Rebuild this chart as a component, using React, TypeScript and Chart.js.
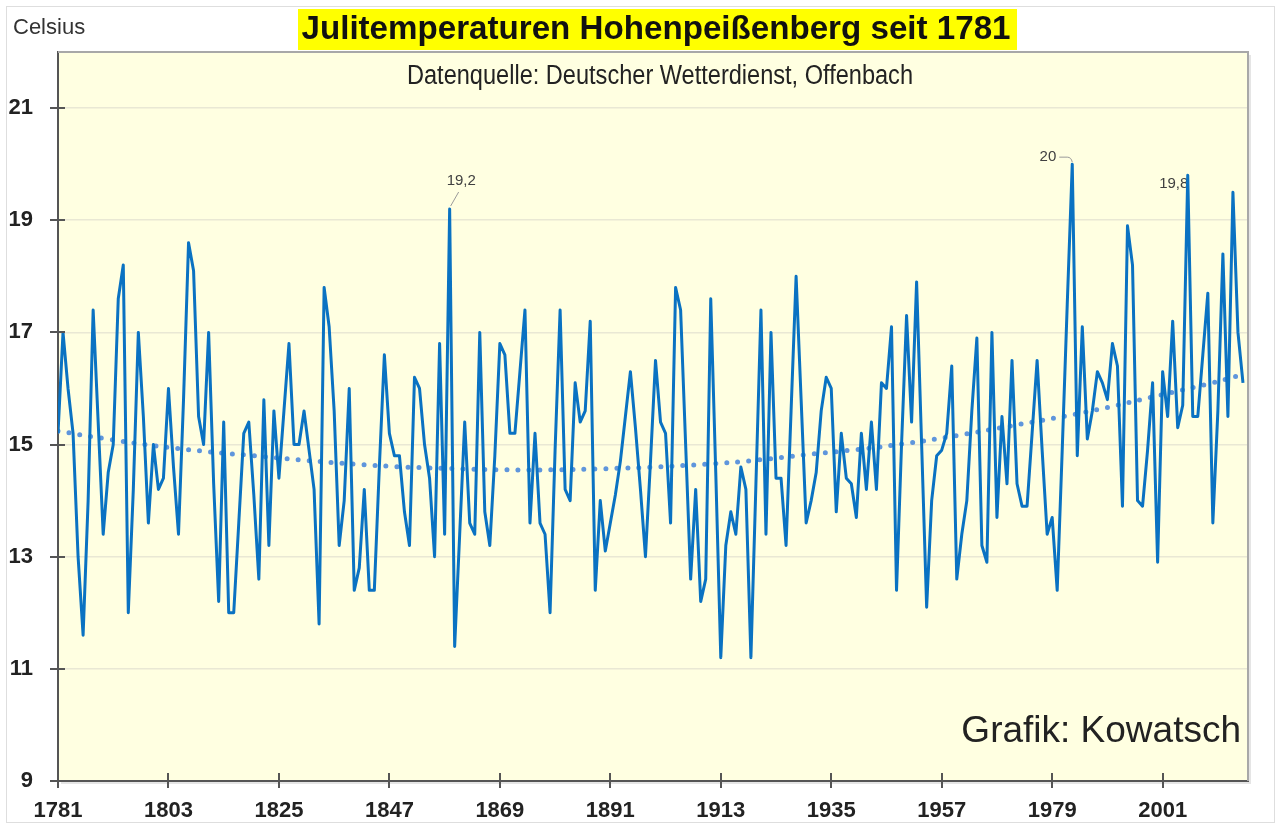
import React, { useEffect, useRef } from "react";
import { Chart, registerables } from "chart.js";

Chart.register(...registerables);

// ---------- data ----------
const firstYear = 1781;
const julyTemps: number[] = [
  // 1781-1790
  15.2, 17.0, 16.0, 15.2, 13.0, 11.6, 14.0, 17.4, 15.4, 13.4,
  // 1791-1800
  14.5, 15.0, 17.6, 18.2, 12.0, 14.2, 17.0, 15.5, 13.6, 15.0,
  // 1801-1810
  14.2, 14.4, 16.0, 14.6, 13.4, 15.8, 18.6, 18.1, 15.5, 15.0,
  // 1811-1820
  17.0, 14.3, 12.2, 15.4, 12.0, 12.0, 13.6, 15.2, 15.4, 14.1,
  // 1821-1830
  12.6, 15.8, 13.2, 15.6, 14.4, 15.6, 16.8, 15.0, 15.0, 15.6,
  // 1831-1840
  14.9, 14.2, 11.8, 17.8, 17.1, 15.6, 13.2, 14.0, 16.0, 12.4,
  // 1841-1850
  12.8, 14.2, 12.4, 12.4, 14.6, 16.6, 15.2, 14.8, 14.8, 13.8,
  // 1851-1860
  13.2, 16.2, 16.0, 15.0, 14.4, 13.0, 16.8, 13.4, 19.2, 11.4,
  // 1861-1870
  13.4, 15.4, 13.6, 13.4, 17.0, 13.8, 13.2, 14.8, 16.8, 16.6,
  // 1871-1880
  15.2, 15.2, 16.3, 17.4, 13.6, 15.2, 13.6, 13.4, 12.0, 14.9,
  // 1881-1890
  17.4, 14.2, 14.0, 16.1, 15.4, 15.6, 17.2, 12.4, 14.0, 13.1,
  // 1891-1900
  13.6, 14.1, 14.7, 15.5, 16.3, 15.3, 14.2, 13.0, 14.7, 16.5,
  // 1901-1910
  15.4, 15.2, 13.6, 17.8, 17.4, 15.0, 12.6, 14.2, 12.2, 12.6,
  // 1911-1920
  17.6, 14.5, 11.2, 13.2, 13.8, 13.4, 14.6, 14.2, 11.2, 14.3,
  // 1921-1930
  17.4, 13.4, 17.0, 14.4, 14.4, 13.2, 15.6, 18.0, 15.8, 13.6,
  // 1931-1940
  14.0, 14.5, 15.6, 16.2, 16.0, 13.8, 15.2, 14.4, 14.3, 13.7,
  // 1941-1950
  15.2, 14.2, 15.4, 14.2, 16.1, 16.0, 17.1, 12.4, 15.0, 17.3,
  // 1951-1960
  15.4, 17.9, 15.0, 12.1, 14.0, 14.8, 14.9, 15.2, 16.4, 12.6,
  // 1961-1970
  13.4, 14.0, 15.6, 16.9, 13.2, 12.9, 17.0, 13.7, 15.5, 14.3,
  // 1971-1980
  16.5, 14.3, 13.9, 13.9, 15.2, 16.5, 14.9, 13.4, 13.7, 12.4,
  // 1981-1990
  14.9, 17.5, 20.0, 14.8, 17.1, 15.1, 15.6, 16.3, 16.1, 15.8,
  // 1991-2000
  16.8, 16.4, 13.9, 18.9, 18.2, 14.0, 13.9, 14.9, 16.1, 12.9,
  // 2001-2010
  16.3, 15.5, 17.2, 15.3, 15.7, 19.8, 15.5, 15.5, 16.6, 17.7,
  // 2011-2017
  13.6, 15.6, 18.4, 15.5, 19.5, 17.0, 16.1,
];
const years: number[] = julyTemps.map((_, i) => firstYear + i);

const trendYears: number[] = [
  1781, 1790, 1800, 1810, 1820, 1830, 1840, 1850, 1860, 1870, 1880, 1890, 1900,
  1910, 1920, 1930, 1940, 1950, 1960, 1970, 1980, 1990, 2000, 2010, 2017,
];
const trendTemps: number[] = [
  15.24, 15.11, 14.98, 14.88, 14.8, 14.72, 14.65, 14.6, 14.57, 14.55, 14.55, 14.57, 14.6,
  14.65, 14.72, 14.82, 14.91, 15.02, 15.16, 15.32, 15.48, 15.66, 15.87, 16.08, 16.25,
];

const xTickYears: number[] = [1781, 1803, 1825, 1847, 1869, 1891, 1913, 1935, 1957, 1979, 2001];
const yTickValues: number[] = [9, 11, 13, 15, 17, 19, 21];

const peakYears: number[] = [1859, 1983, 2006];
const peakTexts: string[] = ["19,2", "20", "19,8"];

const titleText = "Julitemperaturen Hohenpeißenberg seit 1781";
const subtitleText = "Datenquelle: Deutscher Wetterdienst, Offenbach";
const creditText = "Grafik: Kowatsch";
const unitText = "Celsius";

// ---------- drawing helpers ----------
const FONT = '"Liberation Sans", Arial, sans-serif';

function drawScaledText(ctx: CanvasRenderingContext2D, text: string, cx: number, cy: number, font: string, width: number, color: string) {
  ctx.save();
  ctx.font = font;
  const w = ctx.measureText(text).width;
  ctx.translate(cx, cy);
  ctx.scale(width / w, 1);
  ctx.fillStyle = color;
  ctx.textAlign = "center";
  ctx.textBaseline = "middle";
  ctx.fillText(text, 0, 0);
  ctx.restore();
}

const decorPlugin = {
  id: "decor",
  beforeDraw(chart: any) {
    const { ctx, chartArea: a, width, height } = chart;
    ctx.save();
    ctx.fillStyle = "#ffffff";
    ctx.fillRect(0, 0, width, height);
    ctx.strokeStyle = "#dedede";
    ctx.lineWidth = 1;
    ctx.strokeRect(6.5, 6.5, width - 13, height - 13);
    ctx.fillStyle = "rgba(0,0,0,0.10)";
    ctx.fillRect(a.left + 3, a.top + 3, a.right - a.left, a.bottom - a.top);
    ctx.fillStyle = "#ffffe1";
    ctx.fillRect(a.left, a.top, a.right - a.left, a.bottom - a.top);
    ctx.restore();
  },
  beforeDatasetsDraw(chart: any) {
    const { ctx } = chart;
    const xs = chart.scales.x;
    const ys = chart.scales.y;
    ctx.save();
    ctx.font = `15px ${FONT}`;
    ctx.fillStyle = "#404040";
    ctx.textBaseline = "middle";
    ctx.strokeStyle = "#9a9a9a";
    ctx.lineWidth = 1;
    peakYears.forEach((yr, i) => {
      const v = julyTemps[yr - firstYear];
      const px = xs.getPixelForValue(yr);
      const py = ys.getPixelForValue(v);
      const t = peakTexts[i];
      if (i === 0) {
        ctx.textAlign = "left";
        ctx.fillText(t, px - 3, py - 28);
        ctx.beginPath();
        ctx.moveTo(px + 1, py - 3);
        ctx.lineTo(px + 9, py - 17);
        ctx.stroke();
      } else if (i === 1) {
        ctx.textAlign = "right";
        ctx.fillText(t, px - 16, py - 7);
        ctx.beginPath();
        ctx.moveTo(px - 13, py - 7);
        ctx.lineTo(px - 5, py - 7);
        ctx.quadraticCurveTo(px - 1, py - 7, px, py - 2);
        ctx.stroke();
      } else {
        ctx.textAlign = "center";
        ctx.fillText(t, px - 14, py + 8);
      }
    });
    ctx.restore();
  },
  afterDraw(chart: any) {
    const { ctx, chartArea: a } = chart;
    const xs = chart.scales.x;
    const ys = chart.scales.y;
    ctx.save();
    // top and right frame
    ctx.strokeStyle = "#a8a8a8";
    ctx.lineWidth = 2;
    ctx.beginPath();
    ctx.moveTo(a.left, a.top);
    ctx.lineTo(a.right, a.top);
    ctx.lineTo(a.right, a.bottom);
    ctx.stroke();
    // cross tick marks
    ctx.strokeStyle = "#555555";
    ctx.lineWidth = 2;
    yTickValues.forEach((v) => {
      const y = Math.round(ys.getPixelForValue(v));
      ctx.beginPath();
      ctx.moveTo(a.left - 8, y);
      ctx.lineTo(a.left + 7, y);
      ctx.stroke();
    });
    xTickYears.forEach((yr) => {
      const x = Math.round(xs.getPixelForValue(yr));
      ctx.beginPath();
      ctx.moveTo(x, a.bottom - 8);
      ctx.lineTo(x, a.bottom + 7);
      ctx.stroke();
    });
    // title with yellow highlight
    ctx.fillStyle = "#ffff00";
    ctx.fillRect(298, 9, 719, 41);
    drawScaledText(ctx, titleText, 656, 30, `bold 33px ${FONT}`, 709, "#111111");
    // subtitle (condensed)
    drawScaledText(ctx, subtitleText, 660, 77, `27px ${FONT}`, 506, "#222222");
    // credit
    ctx.font = `37px ${FONT}`;
    ctx.fillStyle = "#222222";
    ctx.textAlign = "right";
    ctx.textBaseline = "alphabetic";
    ctx.fillText(creditText, 1241, 742);
    // unit
    ctx.font = `22px ${FONT}`;
    ctx.fillStyle = "#333333";
    ctx.textAlign = "left";
    ctx.textBaseline = "middle";
    ctx.fillText(unitText, 13, 28);
    ctx.restore();
  },
};

export default function App() {
  const canvasRef = useRef<HTMLCanvasElement | null>(null);

  useEffect(() => {
    document.body.style.margin = "0";
    const canvas = canvasRef.current;
    if (!canvas) return;
    const chart = new Chart(canvas, {
      type: "line",
      data: {
        datasets: [
          {
            label: "Juli",
            data: years.map((yr, i) => ({ x: yr, y: julyTemps[i] })),
            borderColor: "#0a72c2",
            borderWidth: 3,
            pointRadius: 0,
            tension: 0,
            borderJoinStyle: "round",
            order: 1,
          },
          {
            label: "Trend",
            data: trendYears.map((yr, i) => ({ x: yr, y: trendTemps[i] })),
            borderColor: "#5f96dc",
            borderWidth: 5,
            borderDash: [0, 11],
            borderCapStyle: "round",
            pointRadius: 0,
            tension: 0.4,
            order: 2,
          },
        ],
      },
      options: {
        animation: false,
        responsive: false,
        devicePixelRatio: 1,
        layout: { padding: { left: 0, top: 52, right: 33, bottom: 0 } },
        plugins: {
          legend: { display: false },
          tooltip: { enabled: false },
          title: { display: false },
        },
        scales: {
          x: {
            type: "linear",
            min: 1781,
            max: 2018,
            afterBuildTicks: (scale: any) => {
              scale.ticks = xTickYears.map((v) => ({ value: v }));
            },
            afterFit: (scale: any) => {
              scale.height = 48;
            },
            grid: { display: false, drawTicks: false },
            border: { display: true, color: "#555555", width: 2 },
            ticks: {
              autoSkip: false,
              maxRotation: 0,
              padding: 17,
              color: "#222222",
              font: { family: FONT, size: 22, weight: "bold" },
              callback: (v: any) => String(v),
            },
          },
          y: {
            type: "linear",
            min: 9,
            max: 22,
            afterBuildTicks: (scale: any) => {
              scale.ticks = yTickValues.map((v) => ({ value: v }));
            },
            afterFit: (scale: any) => {
              scale.width = 58;
            },
            grid: { display: true, drawTicks: false, color: "#e9e8d4", lineWidth: 1.5 },
            border: { display: true, color: "#555555", width: 2 },
            ticks: {
              padding: 25,
              color: "#222222",
              font: { family: FONT, size: 22, weight: "bold" },
              callback: (v: any) => String(v),
            },
          },
        },
      },
      plugins: [decorPlugin],
    } as any);
    return () => chart.destroy();
  }, []);

  return (
    <div style={{ position: "absolute", left: 0, top: 0, width: 1281, height: 829 }}>
      <canvas ref={canvasRef} width={1281} height={829} style={{ display: "block" }} />
    </div>
  );
}
